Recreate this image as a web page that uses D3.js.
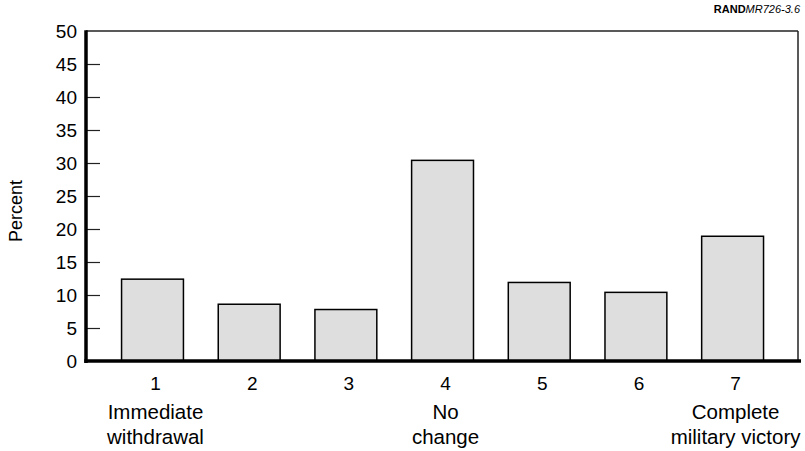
<!DOCTYPE html>
<html><head><meta charset="utf-8">
<script src="https://cdn.jsdelivr.net/npm/d3@7"></script>
<style>body{margin:0;background:#fff}svg{display:block}text{font-family:"Liberation Sans",Arial,Helvetica,sans-serif}</style>
</head><body><svg id="c" width="805" height="451"></svg>
<script>
const categories = ["1","2","3","4","5","6","7"];
const values = [12.4, 8.6, 7.8, 30.4, 11.9, 10.4, 18.9];
const catLabels = [["Immediate","withdrawal"],[],[],["No","change"],[],[],["Complete","military victory"]];
const yTicks = [0,5,10,15,20,25,30,35,40,45,50];
const yTitle = "Percent";

const svg = d3.select("#c");
const x0 = 86, x1 = 798, yTop = 31, yBot = 361;
const y = d3.scaleLinear().domain([0,50]).range([yBot, yTop]);
const x = d3.scalePoint().domain(categories).range([152.5, 732.6]);
const bw = x.step()*0.64;

// frame top and right
svg.append("line").attr("x1",x0).attr("x2",x1).attr("y1",yTop).attr("y2",yTop).attr("stroke","#222").attr("stroke-width",1.5);
svg.append("line").attr("x1",x1).attr("x2",x1).attr("y1",yTop).attr("y2",yBot).attr("stroke","#222").attr("stroke-width",1.5);

// bars
svg.selectAll("rect.bar").data(values).join("rect").attr("class","bar")
  .attr("x",(d,i)=>x(categories[i])-bw/2).attr("width",bw)
  .attr("y",d=>y(d)).attr("height",d=>yBot-y(d))
  .attr("fill","#dedede").attr("stroke","#000").attr("stroke-width",1.5);

// y axis
const yAxis = d3.axisRight(y).tickValues(yTicks.filter(t=>t>0&&t<50)).tickSize(14).tickFormat("");
const ga = svg.append("g").attr("transform",`translate(${x0},0)`).call(yAxis);
ga.select(".domain").remove();
ga.selectAll(".tick line").attr("stroke","#222").attr("stroke-width",1.2);
svg.append("line").attr("x1",x0).attr("x2",x0).attr("y1",yTop-0.7).attr("y2",yBot+2).attr("stroke","#000").attr("stroke-width",3.5);
svg.selectAll("text.yl").data(yTicks).join("text").attr("class","yl")
  .attr("x",77).attr("y",d=>y(d)).attr("dy","0.36em").attr("text-anchor","end")
  .attr("font-size",19).attr("fill","#000").text(d=>d);

// baseline
svg.append("line").attr("x1",x0-1.7).attr("x2",801).attr("y1",yBot).attr("y2",yBot).attr("stroke","#000").attr("stroke-width",3.5);

// x labels
svg.selectAll("text.xl").data(categories).join("text").attr("class","xl")
  .attr("x",d=>x(d)+3).attr("y",390).attr("text-anchor","middle").attr("font-size",19).text(d=>d);
categories.forEach((c,i)=>{
  catLabels[i].forEach((t,j)=>{
    svg.append("text").attr("x",x(c)+3).attr("y",419+j*25).attr("text-anchor","middle").attr("font-size",20.5).text(t);
  });
});

// y title
svg.append("text").attr("transform","translate(22,211) rotate(-90)").attr("text-anchor","middle").attr("font-size",18).text(yTitle);

// RAND label
const rt = svg.append("text").attr("x",800).attr("y",13).attr("text-anchor","end").attr("font-size",11);
rt.append("tspan").attr("font-weight","bold").text("RAND");
rt.append("tspan").attr("font-style","italic").text("MR726-3.6");
</script></body></html>
